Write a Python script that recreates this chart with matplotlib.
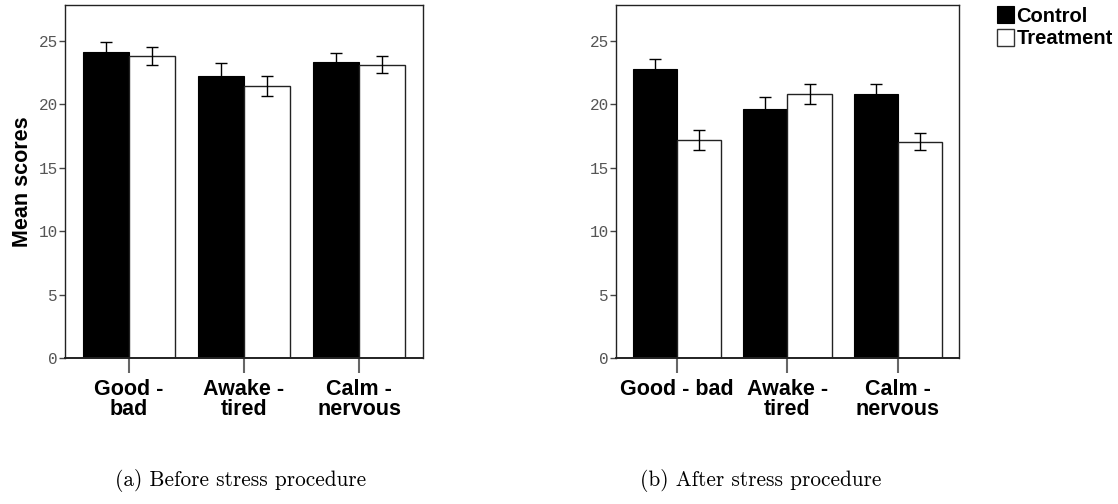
import matplotlib
matplotlib.use('Agg')
import matplotlib.pyplot as plt
import numpy as np
from matplotlib.patches import Patch

# data
categories_before = ['Good -\nbad', 'Awake -\ntired', 'Calm -\nnervous']
categories_after = ['Good - bad', 'Awake -\ntired', 'Calm -\nnervous']

control_before = [24.1, 22.2, 23.3]
control_before_err = [0.75, 1.0, 0.75]
treatment_before = [23.8, 21.4, 23.1]
treatment_before_err = [0.7, 0.8, 0.65]

control_after = [22.75, 19.6, 20.8]
control_after_err = [0.8, 0.95, 0.8]
treatment_after = [17.15, 20.8, 17.05]
treatment_after_err = [0.8, 0.78, 0.7]

yticks = [0, 5, 10, 15, 20, 25]

LABEL_FONT = 'Liberation Sans'
TICK_FONT = 'Liberation Mono'


def _draw_panel(ax, labels, ctrl, ctrl_err, treat, treat_err):
    x = np.arange(len(labels))
    w = 0.4
    err_kw = dict(ecolor='black', elinewidth=1.0, capsize=4.5, capthick=1.0)
    ax.bar(x - w / 2, ctrl, w, color='black', edgecolor='black',
           linewidth=0.8, yerr=ctrl_err, error_kw=err_kw, zorder=2)
    ax.bar(x + w / 2, treat, w, color='white', edgecolor='#222222',
           linewidth=1.0, yerr=treat_err, error_kw=err_kw, zorder=2)

    ax.set_xlim(-0.555, 2.555)
    ax.set_ylim(0, 27.8)
    ax.set_yticks(yticks)
    ax.set_yticklabels([str(v) for v in yticks], family=TICK_FONT,
                       fontsize=11.5, color='#555555')
    ax.set_xticks(x)
    ax.set_xticklabels(labels, family=LABEL_FONT, fontweight='bold',
                       fontsize=15.5, linespacing=0.95)
    ax.tick_params(axis='y', length=4.5, width=1.0, color='#444444', pad=0.5)
    ax.tick_params(axis='x', length=11, width=1.5, color='#666666', pad=4)
    for sp in ax.spines.values():
        sp.set_linewidth(1.0)
        sp.set_color('#222222')
    ax.spines['bottom'].set_linewidth(1.4)


fig = plt.figure(figsize=(11.18, 5.04), dpi=100)
ax1 = fig.add_axes([65 / 1118, 1 - 358 / 504, (423 - 65) / 1118, (358 - 5) / 504])
ax2 = fig.add_axes([616 / 1118, 1 - 358 / 504, (959 - 616) / 1118, (358 - 5) / 504])

_draw_panel(ax1, categories_before, control_before, control_before_err,
            treatment_before, treatment_before_err)
_draw_panel(ax2, categories_after, control_after, control_after_err,
            treatment_after, treatment_after_err)

ax1.set_ylabel('Mean scores', family=LABEL_FONT, fontweight='bold',
               fontsize=15.5, labelpad=4.5)

# legend, outside the right panel
handles = [Patch(facecolor='black', edgecolor='black', linewidth=0.8),
           Patch(facecolor='white', edgecolor='#333333', linewidth=1.0)]
fig.legend(handles, ['Control', 'Treatment'], loc='upper left',
           bbox_to_anchor=(997 / 1118, 1 - 6 / 504), frameon=False,
           prop=dict(family=LABEL_FONT, weight='bold', size=14.5),
           handlelength=0.85, handleheight=0.95, handletextpad=0.12,
           labelspacing=0.15, borderpad=0, borderaxespad=0)

# captions
fig.text(241 / 1118, 1 - 481 / 504, '(a) Before stress procedure',
         family='cmr10', fontsize=15.3, ha='center', va='center')
fig.text(761 / 1118, 1 - 481 / 504, '(b) After stress procedure',
         family='cmr10', fontsize=15.3, ha='center', va='center')

fig.savefig('out.png', dpi=100)
